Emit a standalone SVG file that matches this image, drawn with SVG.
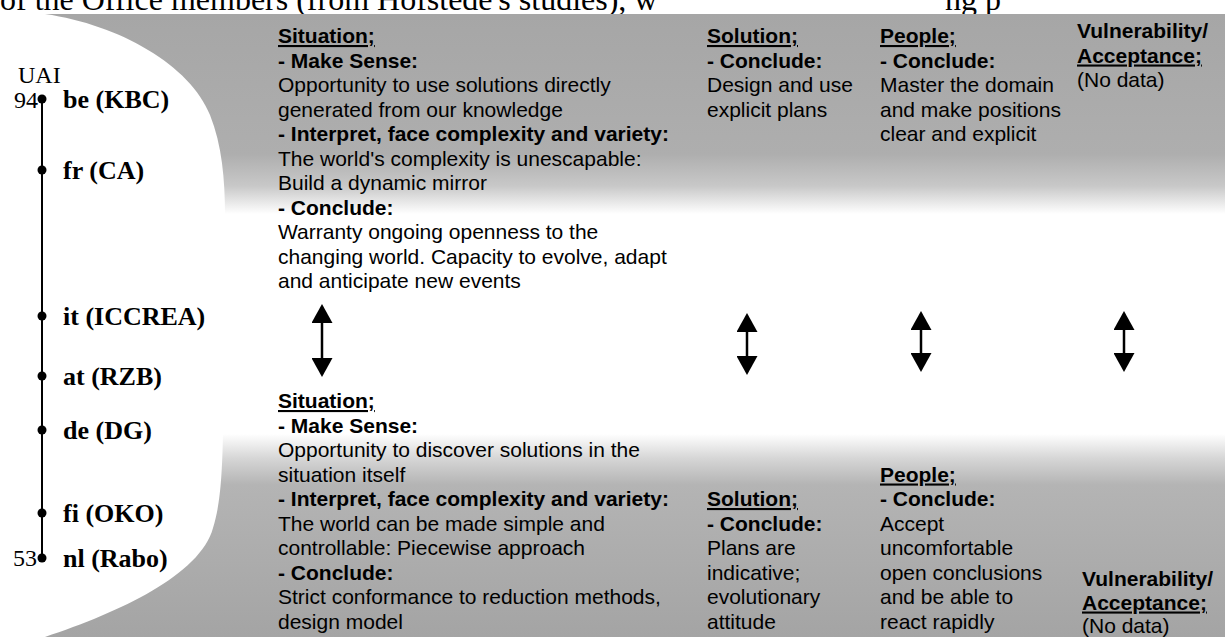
<svg xmlns="http://www.w3.org/2000/svg" width="1225" height="637" viewBox="0 0 1225 637">
  <style>
    .t { font-family: "Liberation Sans", Arial, sans-serif; font-size: 21px; fill: #000; }
    .b { font-weight: bold; }
    .u { text-decoration: underline; }
    .lbl { font-family: "Liberation Serif", "Times New Roman", serif; font-size: 26px; font-weight: bold; fill: #000; }
    .num { font-family: "Liberation Serif", "Times New Roman", serif; font-size: 24px; fill: #000; }
    .title { font-family: "Liberation Serif", "Times New Roman", serif; font-size: 32px; fill: #000; }
    .dot { fill: #000; }
    .axis { stroke: #000; stroke-width: 2; }
    .arr { stroke: #000; stroke-width: 2.5; fill: none; marker-start: url(#head); marker-end: url(#head); }
  </style>
  <defs>
    <linearGradient id="gTop" gradientUnits="userSpaceOnUse" x1="0" y1="14" x2="0" y2="214">
      <stop offset="0" stop-color="#a6a6a6"/>
      <stop offset="0.7" stop-color="#aeaeae"/>
      <stop offset="0.86" stop-color="#c8c8c8"/>
      <stop offset="1" stop-color="#ffffff"/>
    </linearGradient>
    <linearGradient id="gBot" gradientUnits="userSpaceOnUse" x1="0" y1="434" x2="0" y2="637">
      <stop offset="0" stop-color="#ffffff"/>
      <stop offset="0.12" stop-color="#d6d6d6"/>
      <stop offset="0.25" stop-color="#b4b4b4"/>
      <stop offset="1" stop-color="#a4a4a4"/>
    </linearGradient>
    <marker id="head" viewBox="0 0 19 21" refX="1" refY="10.5" markerWidth="19" markerHeight="21" markerUnits="userSpaceOnUse" orient="auto-start-reverse">
      <path d="M0,0 L19,10.5 L0,21 Z" fill="#000"/>
    </marker>
  </defs>

  <rect width="1225" height="637" fill="#fff"/>

  <!-- heading line running off the top edge -->
  <g id="heading">
    <text class="title" x="0" y="10">of the Office members (from Hofstede's studies), w</text>
    <text class="title" x="945" y="10">ng p</text>
  </g>

  <!-- shaded bands -->
  <g id="bands">
    <path d="M45,14 L1225,14 L1225,214 L225,214 C225,180 222,145 210,115 C190,65 120,25 45,14 Z" fill="url(#gTop)"/>
    <path d="M1225,637 L45,637 C120,612 200,575 213,528 C220,505 222,480 223,434 L1225,434 Z" fill="url(#gBot)"/>
  </g>

  <!-- UAI scale -->
  <g id="uai-axis">
    <text class="num" x="18" y="83">UAI</text>
    <line class="axis" x1="42" y1="99" x2="42" y2="558"/>
    <text class="num" x="38" y="108" text-anchor="end">94</text>
    <text class="num" x="37" y="566" text-anchor="end">53</text>
  </g>
  <g id="node-be"><circle class="dot" cx="42" cy="99" r="4.5"/><text class="lbl" x="63" y="108">be (KBC)</text></g>
  <g id="node-fr"><circle class="dot" cx="42" cy="170" r="4.5"/><text class="lbl" x="63" y="179">fr (CA)</text></g>
  <g id="node-it"><circle class="dot" cx="42" cy="316" r="4.5"/><text class="lbl" x="63" y="325">it (ICCREA)</text></g>
  <g id="node-at"><circle class="dot" cx="42" cy="376" r="4.5"/><text class="lbl" x="63" y="385">at (RZB)</text></g>
  <g id="node-de"><circle class="dot" cx="42" cy="430" r="4.5"/><text class="lbl" x="63" y="439">de (DG)</text></g>
  <g id="node-fi"><circle class="dot" cx="42" cy="513" r="4.5"/><text class="lbl" x="63" y="522">fi (OKO)</text></g>
  <g id="node-nl"><circle class="dot" cx="42" cy="558" r="4.5"/><text class="lbl" x="63" y="567">nl (Rabo)</text></g>

  <!-- high-UAI pole -->
  <g id="top-situation">
    <text class="t b u" x="278" y="43">Situation;</text>
    <text class="t b" x="278" y="67.5">- Make Sense:</text>
    <text class="t" x="278" y="92">Opportunity to use solutions directly</text>
    <text class="t" x="278" y="116.5">generated from our knowledge</text>
    <text class="t b" x="278" y="141">- Interpret, face complexity and variety:</text>
    <text class="t" x="278" y="165.5">The world's complexity is unescapable:</text>
    <text class="t" x="278" y="190">Build a dynamic mirror</text>
    <text class="t b" x="278" y="214.5">- Conclude:</text>
    <text class="t" x="278" y="239">Warranty ongoing openness to the</text>
    <text class="t" x="278" y="263.5">changing world. Capacity to evolve, adapt</text>
    <text class="t" x="278" y="288">and anticipate new events</text>
  </g>
  <g id="top-solution">
    <text class="t b u" x="707" y="43">Solution;</text>
    <text class="t b" x="707" y="67.5">- Conclude:</text>
    <text class="t" x="707" y="92">Design and use</text>
    <text class="t" x="707" y="116.5">explicit plans</text>
  </g>
  <g id="top-people">
    <text class="t b u" x="880" y="43">People;</text>
    <text class="t b" x="880" y="67.5">- Conclude:</text>
    <text class="t" x="880" y="92">Master the domain</text>
    <text class="t" x="880" y="116.5">and make positions</text>
    <text class="t" x="880" y="141">clear and explicit</text>
  </g>
  <g id="top-vulnerability">
    <text class="t b" x="1077" y="38">Vulnerability/</text>
    <text class="t b u" x="1077" y="62.5">Acceptance;</text>
    <text class="t" x="1077" y="87">(No data)</text>
  </g>

  <!-- low-UAI pole -->
  <g id="bottom-situation">
    <text class="t b u" x="278" y="408">Situation;</text>
    <text class="t b" x="278" y="432.5">- Make Sense:</text>
    <text class="t" x="278" y="457">Opportunity to discover solutions in the</text>
    <text class="t" x="278" y="481.5">situation itself</text>
    <text class="t b" x="278" y="506">- Interpret, face complexity and variety:</text>
    <text class="t" x="278" y="530.5">The world can be made simple and</text>
    <text class="t" x="278" y="555">controllable: Piecewise approach</text>
    <text class="t b" x="278" y="579.5">- Conclude:</text>
    <text class="t" x="278" y="604">Strict conformance to reduction methods,</text>
    <text class="t" x="278" y="628.5">design model</text>
  </g>
  <g id="bottom-solution">
    <text class="t b u" x="707" y="506">Solution;</text>
    <text class="t b" x="707" y="530.5">- Conclude:</text>
    <text class="t" x="707" y="555">Plans are</text>
    <text class="t" x="707" y="579.5">indicative;</text>
    <text class="t" x="707" y="604">evolutionary</text>
    <text class="t" x="707" y="628.5">attitude</text>
  </g>
  <g id="bottom-people">
    <text class="t b u" x="880" y="481.5">People;</text>
    <text class="t b" x="880" y="506">- Conclude:</text>
    <text class="t" x="880" y="530.5">Accept</text>
    <text class="t" x="880" y="555">uncomfortable</text>
    <text class="t" x="880" y="579.5">open conclusions</text>
    <text class="t" x="880" y="604">and be able to</text>
    <text class="t" x="880" y="628.5">react rapidly</text>
  </g>
  <g id="bottom-vulnerability">
    <text class="t b" x="1082" y="586">Vulnerability/</text>
    <text class="t b u" x="1082" y="609.5">Acceptance;</text>
    <text class="t" x="1082" y="633">(No data)</text>
  </g>

  <!-- two-way arrows between the poles -->
  <g id="connectors">
    <line class="arr" x1="322" y1="322" x2="322" y2="359"/>
    <line class="arr" x1="747" y1="331" x2="747" y2="357"/>
    <line class="arr" x1="921" y1="329" x2="921" y2="354"/>
    <line class="arr" x1="1124" y1="329" x2="1124" y2="354"/>
  </g>
</svg>
